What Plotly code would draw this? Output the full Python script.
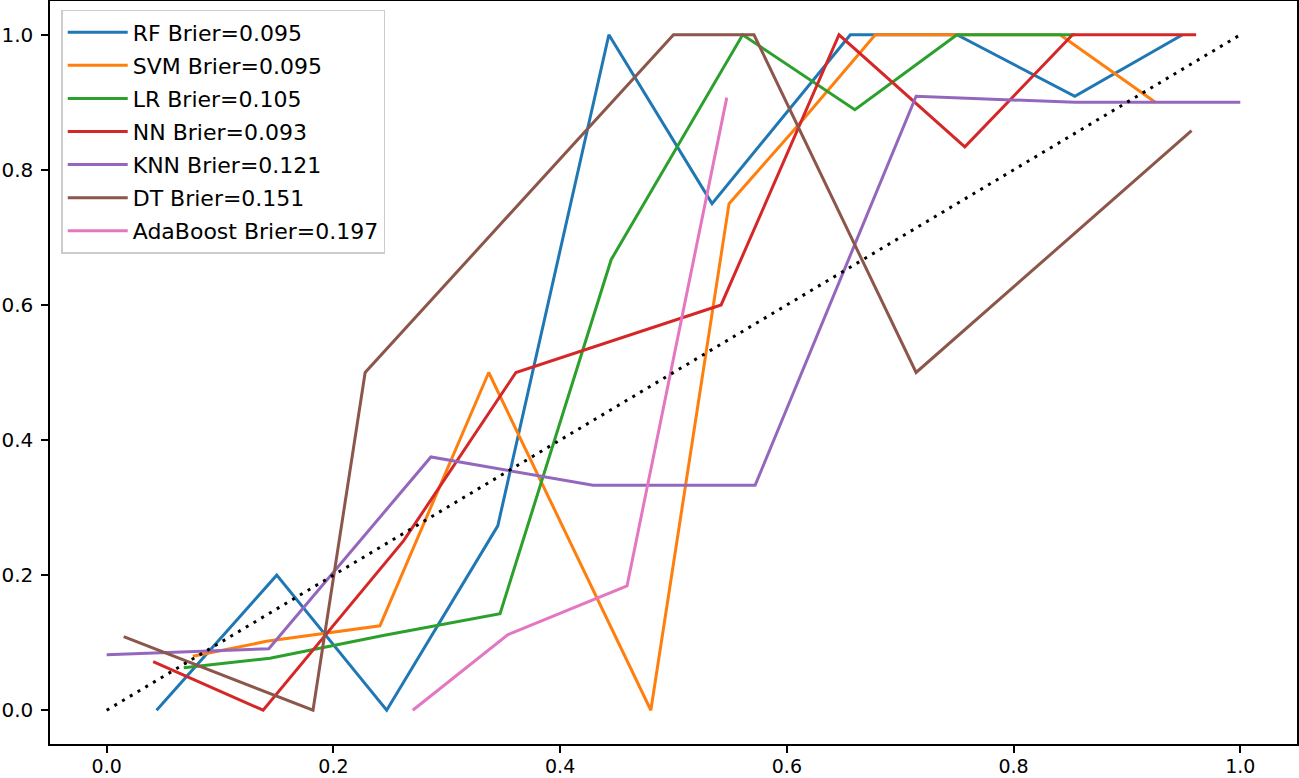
import plotly.graph_objects as go

names = ["RF Brier=0.095", "SVM Brier=0.095", "LR Brier=0.105", "NN Brier=0.093",
         "KNN Brier=0.121", "DT Brier=0.151", "AdaBoost Brier=0.197"]
colors = ["#1f77b4", "#ff7f0e", "#2ca02c", "#d62728", "#9467bd", "#8c564b", "#e377c2"]

rf_x = [0.044, 0.150, 0.247, 0.345, 0.443, 0.534, 0.656, 0.750, 0.854, 0.949]
rf_y = [0.000, 0.200, 0.000, 0.273, 1.000, 0.750, 1.000, 1.000, 0.909, 1.000]

svm_x = [0.076, 0.141, 0.241, 0.337, 0.480, 0.549, 0.610, 0.678, 0.841, 0.925]
svm_y = [0.080, 0.102, 0.125, 0.500, 0.000, 0.750, 0.866, 1.000, 1.000, 0.900]

lr_x = [0.068, 0.144, 0.245, 0.347, 0.445, 0.561, 0.660, 0.750, 0.854]
lr_y = [0.063, 0.077, 0.111, 0.143, 0.667, 1.000, 0.889, 1.000, 1.000]

nn_x = [0.041, 0.138, 0.262, 0.361, 0.542, 0.646, 0.757, 0.852, 0.961]
nn_y = [0.072, 0.000, 0.251, 0.500, 0.600, 1.000, 0.834, 1.000, 1.000]

knn_x = [0.000, 0.143, 0.286, 0.429, 0.572, 0.714, 0.854, 1.000]
knn_y = [0.082, 0.091, 0.375, 0.333, 0.333, 0.909, 0.900, 0.900]

dt_x = [0.015, 0.182, 0.228, 0.500, 0.571, 0.714, 0.957]
dt_y = [0.109, 0.000, 0.500, 1.000, 1.000, 0.500, 0.858]

ada_x = [0.270, 0.354, 0.459, 0.547]
ada_y = [0.000, 0.112, 0.184, 0.907]

diag_x = [0.0, 1.0]
diag_y = [0.0, 1.0]

tick_vals = [0, 0.2, 0.4, 0.6, 0.8, 1.0]
tick_text = ["0.0", "0.2", "0.4", "0.6", "0.8", "1.0"]

xs = [rf_x, svm_x, lr_x, nn_x, knn_x, dt_x, ada_x]
ys = [rf_y, svm_y, lr_y, nn_y, knn_y, dt_y, ada_y]

fig = go.Figure()
for i, (n, c, x, y) in enumerate(zip(names, colors, xs, ys)):
    fig.add_trace(go.Scatter(x=x, y=y, mode="lines", name=n, legendgroup=str(i),
                             line=dict(color=c, width=3)))
fig.add_trace(go.Scatter(x=diag_x, y=diag_y, mode="lines", showlegend=False,
                         line=dict(color="black", width=3, dash="3px,6px")))

axis_common = dict(showline=True, linecolor="black", linewidth=1.5, mirror=True,
                   ticks="outside", ticklen=7, tickwidth=1.5, tickcolor="black",
                   showgrid=False, zeroline=False, automargin=False)

fig.update_layout(
    width=1299, height=778,
    margin=dict(l=50, r=2, t=1, b=34),
    paper_bgcolor="white", plot_bgcolor="white",
    xaxis=dict(range=[-0.05, 1.05], tickvals=tick_vals, ticktext=tick_text,
               ticklabelstandoff=-3,
               tickfont=dict(family="DejaVu Sans", size=19, color="black"), **axis_common),
    yaxis=dict(range=[-0.05, 1.05], tickvals=tick_vals, ticktext=tick_text,
               ticklabelstandoff=4,
               tickfont=dict(family="DejaVu Sans", size=20, color="black"), **axis_common),
    legend=dict(x=0.009, y=0.988, xanchor="left", yanchor="top",
                bgcolor="rgba(255,255,255,0.8)", bordercolor="#cccccc", borderwidth=1.5,
                font=dict(family="DejaVu Sans", size=22, color="black"),
                tracegroupgap=1.5, traceorder="grouped", itemwidth=60),
    font=dict(family="DejaVu Sans"),
)

fig.write_html("out.html", post_script="document.body.style.margin='0';",
               config={"displayModeBar": False})
